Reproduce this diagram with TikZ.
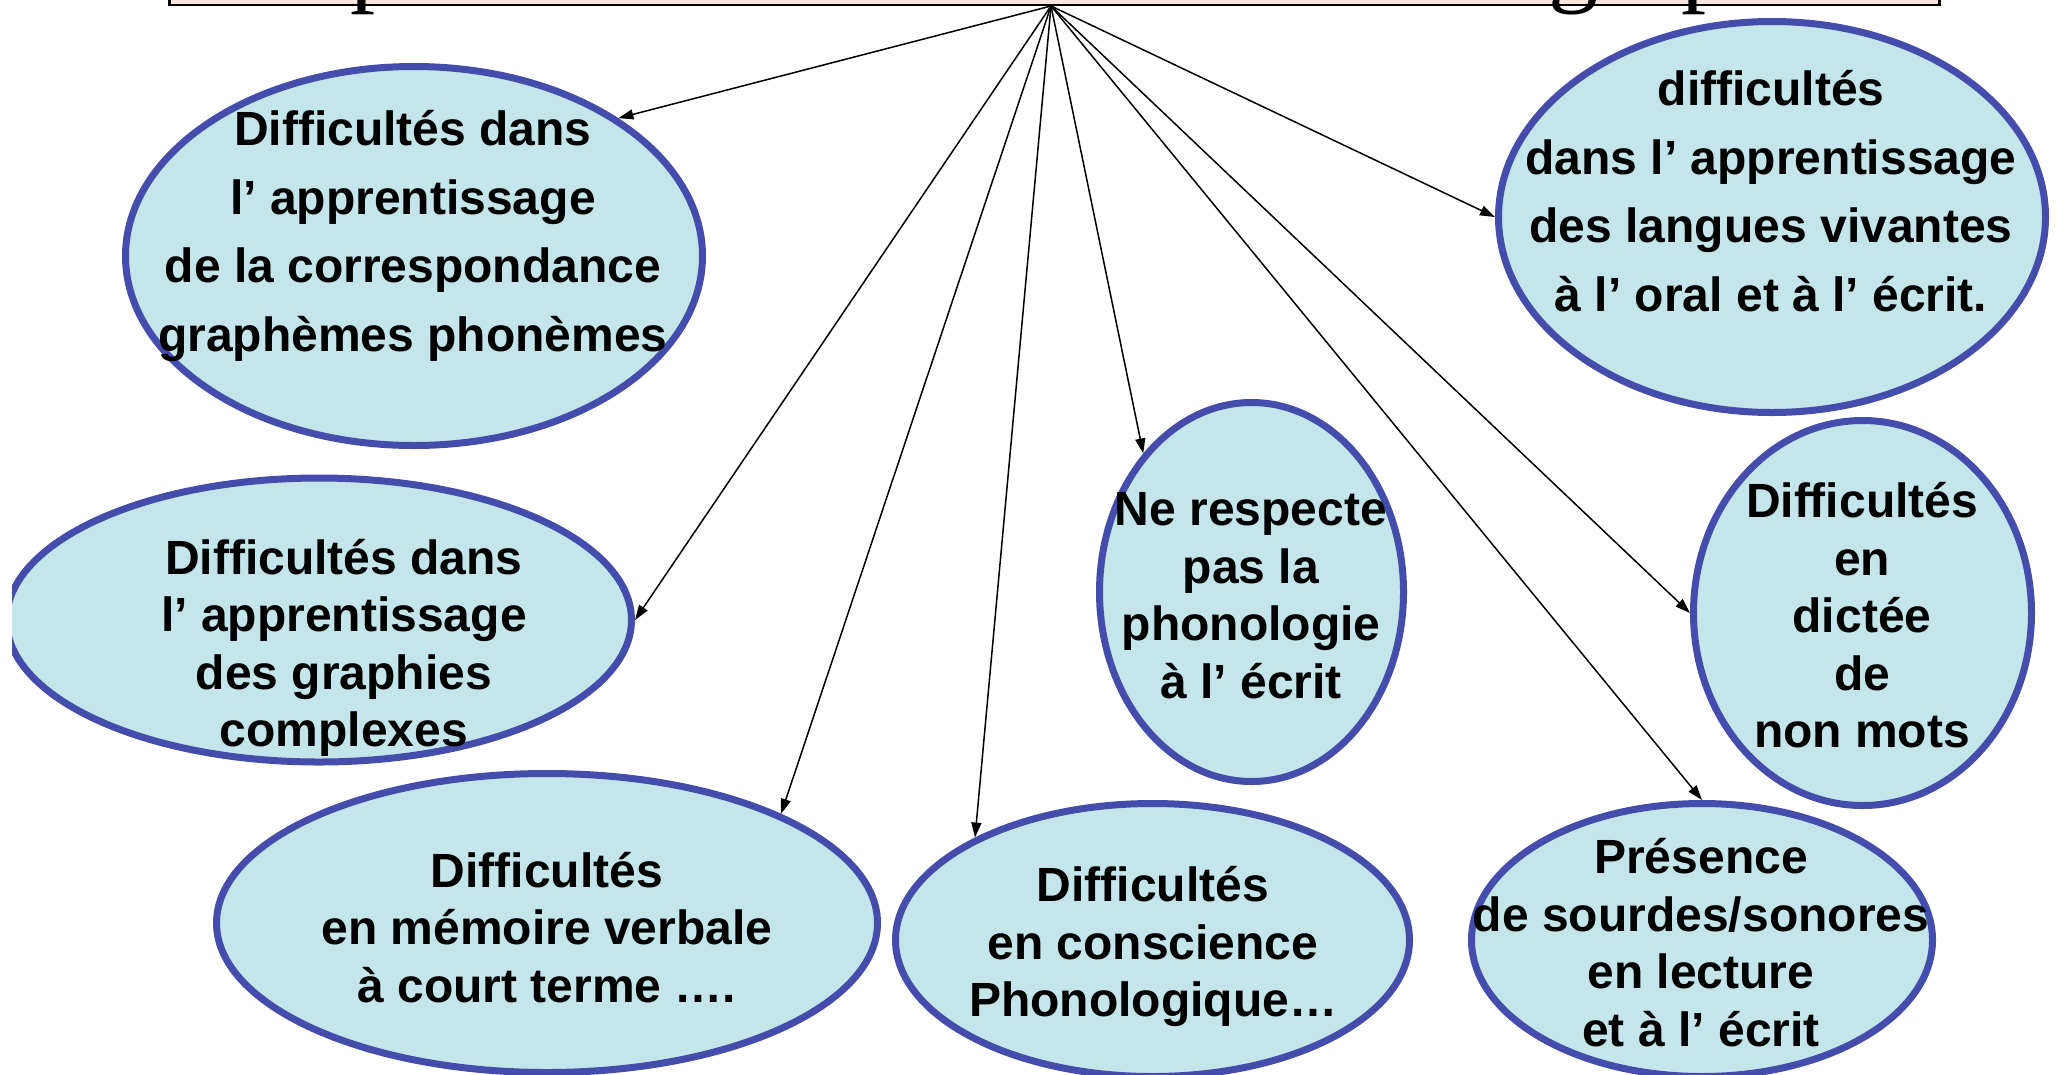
\documentclass[tikz,border=0pt]{standalone}
\usepackage{fontspec}
\setmainfont{Liberation Sans}
\newfontfamily\titlefont{Liberation Serif}
\usetikzlibrary{shapes.geometric,arrows.meta}
\definecolor{ellfill}{HTML}{C4E5E9}
\definecolor{elldraw}{HTML}{444CAC}
\definecolor{titlefill}{HTML}{FDE4DC}
\tikzset{
  bubble/.style={ellipse, draw=elldraw, fill=ellfill, line width=7pt, inner sep=0pt},
  lbl/.style={align=center, inner sep=0pt, font=\bfseries\fontsize{48}{57.5}\selectfont},
  lblwide/.style={align=center, inner sep=0pt, font=\bfseries\fontsize{48}{68.5}\selectfont},
  link/.style={line width=1.5pt, -{Triangle[length=15pt,width=10pt]}},
  glyph/.style={anchor=base west, inner sep=0pt, font=\titlefont\fontsize{100}{100}\selectfont},
}
\begin{document}
\begin{tikzpicture}[x=1pt,y=-1pt]
\useasboundingbox (0,0) rectangle (2060,1074);
\clip (0,0) rectangle (2060,1074);
% title box (cut off at the top)
\node[rectangle, draw=black, line width=2.5pt, fill=titlefill, minimum width=1770pt,
      minimum height=120pt, anchor=south west, inner sep=0pt] (title) at (168,6) {};
\node[glyph] (g1) at (350,-7) {p};
\node[glyph] (g2) at (1548,-7) {g};
\node[glyph] (g3) at (1681,-7) {p};
\coordinate (hub) at (1051,6);
% ellipses
\node[bubble, minimum width=577pt, minimum height=379pt] (e1) at (414,256) {};
\begin{scope}
  \clip (12,0) rectangle (2060,1074);
  \node[bubble, minimum width=625pt, minimum height=284pt] (e2) at (319,620) {};
\end{scope}
\node[bubble, minimum width=661pt, minimum height=299pt] (e3) at (547,923) {};
\node[bubble, minimum width=514pt, minimum height=273pt] (e4) at (1152.5,940) {};
\node[bubble, minimum width=304pt, minimum height=379pt] (e5) at (1251.5,592) {};
\node[bubble, minimum width=547pt, minimum height=391pt] (e6) at (1772,217) {};
\node[bubble, minimum width=338pt, minimum height=385pt] (e7) at (1862.5,613) {};
\node[bubble, minimum width=461pt, minimum height=273pt] (e8) at (1702,940) {};
% texts
\node[lblwide] (t1) at (413,235) {\strut Difficultés dans\\\strut l’ apprentissage\\\strut de la correspondance\\\strut graphèmes phonèmes};
\node[lbl] (t2) at (344,649) {\strut Difficultés dans\\\strut l’ apprentissage\\\strut des graphies\\\strut complexes};
\node[lbl] (t3) at (547,933) {\strut Difficultés\\\strut en mémoire verbale\\\strut à court terme ….};
\node[lbl] (t4) at (1153,947.5) {\strut Difficultés\\\strut en conscience\\\strut Phonologique…};
\node[lbl] (t5) at (1251,600.5) {\strut Ne respecte\\\strut pas la\\\strut phonologie\\\strut à l’ écrit};
\node[lblwide] (t6) at (1771,195) {\strut difficultés\\\strut dans l’ apprentissage\\\strut des langues vivantes\\\strut à l’ oral et à l’ écrit.};
\node[lbl] (t7) at (1862,621) {\strut Difficultés\\\strut en\\\strut dictée\\\strut de\\\strut non mots};
\node[lbl] (t8) at (1701,948.5) {\strut Présence\\\strut de sourdes/sonores\\\strut en lecture\\\strut et à l’ écrit};
% connectors
\draw[link] (hub) -- (e1.34);
\draw[link] (hub) -- (e2.0);
\draw[link] (hub) -- (e3.25);
\draw[link] (hub) -- (e4.150);
\draw[link] (hub) -- (e5.128);
\draw[link] (hub) -- (e8.90);
\draw[link] (hub) -- (e7.180);
\draw[link] (hub) -- (e6.180);
\end{tikzpicture}
\end{document}
